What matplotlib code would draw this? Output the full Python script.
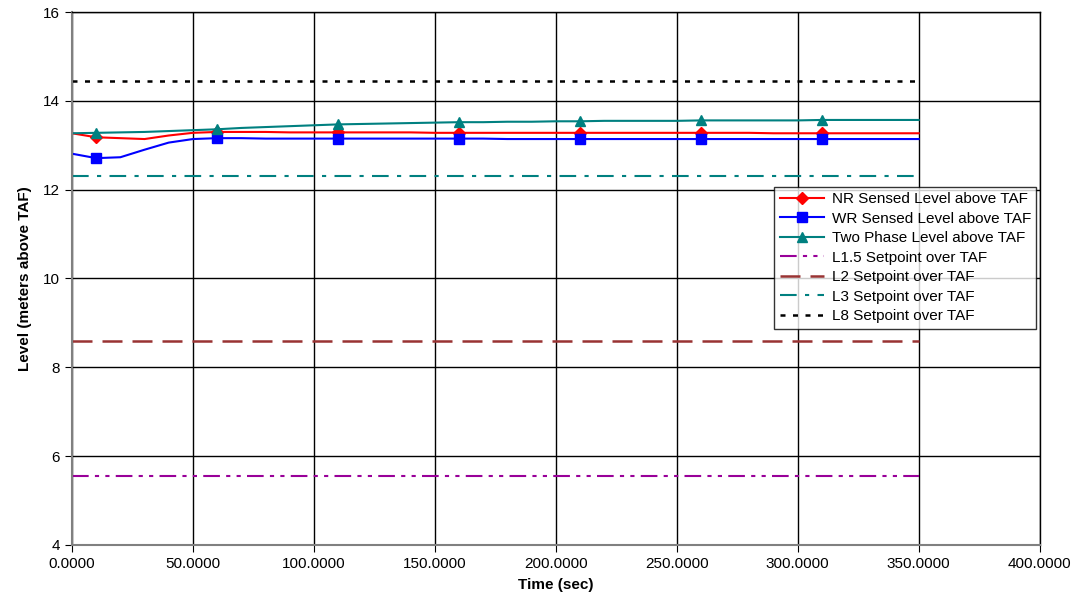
import matplotlib.pyplot as plt
from matplotlib.ticker import FormatStrFormatter

plt.rcParams['font.family'] = ['Liberation Sans', 'DejaVu Sans']

# time base, 10 s steps
time_s = [0, 10, 20, 30, 40, 50, 60, 70, 80, 90, 100, 110, 120, 130, 140, 150, 160, 170,
          180, 190, 200, 210, 220, 230, 240, 250, 260, 270, 280, 290, 300, 310, 320, 330,
          340, 350]

nr_level = [13.27, 13.18, 13.16, 13.14, 13.22, 13.28, 13.30, 13.30, 13.30, 13.29, 13.29,
            13.29, 13.29, 13.29, 13.29, 13.28, 13.28, 13.28, 13.28, 13.28, 13.28, 13.28,
            13.28, 13.28, 13.28, 13.28, 13.28, 13.28, 13.28, 13.27, 13.27, 13.27, 13.27,
            13.27, 13.27, 13.27]

wr_level = [12.81, 12.71, 12.73, 12.90, 13.06, 13.14, 13.16, 13.16, 13.15, 13.15, 13.15,
            13.15, 13.15, 13.15, 13.15, 13.15, 13.15, 13.15, 13.14, 13.14, 13.14, 13.14,
            13.14, 13.14, 13.14, 13.14, 13.14, 13.14, 13.14, 13.14, 13.14, 13.14, 13.14,
            13.14, 13.14, 13.14]

two_phase = [13.27, 13.28, 13.29, 13.30, 13.32, 13.34, 13.36, 13.39, 13.41, 13.43, 13.45,
             13.47, 13.48, 13.49, 13.50, 13.51, 13.52, 13.52, 13.53, 13.53, 13.54, 13.54,
             13.55, 13.55, 13.55, 13.55, 13.56, 13.56, 13.56, 13.56, 13.56, 13.57, 13.57,
             13.57, 13.57, 13.57]

# setpoints over TAF (m)
l15_setpoint = 5.56
l2_setpoint = 8.59
l3_setpoint = 12.31
l8_setpoint = 14.44

fig = plt.figure(figsize=(10.74, 6.04), dpi=100)
ax = fig.add_axes([0.067, 0.098, 0.901, 0.882])

ax.plot(time_s, nr_level, color='#FF0000', lw=1.5, marker='D', ms=6,
        markevery=(1, 5), label='NR Sensed Level above TAF')
ax.plot(time_s, wr_level, color='#0000FF', lw=1.5, marker='s', ms=7.5,
        markevery=(1, 5), label='WR Sensed Level above TAF')
ax.plot(time_s, two_phase, color='#008080', lw=1.5, marker='^', ms=7.5,
        markevery=(1, 5), label='Two Phase Level above TAF')

t_span = [time_s[0], time_s[-1]]
ax.plot(t_span, [l15_setpoint] * 2, color='#990099', lw=1.5,
        ls=(0, (8, 3, 2, 3, 2, 3)), label='L1.5 Setpoint over TAF')
ax.plot(t_span, [l2_setpoint] * 2, color='#993333', lw=1.8,
        ls=(0, (8, 4)), label='L2 Setpoint over TAF')
ax.plot(t_span, [l3_setpoint] * 2, color='#008080', lw=1.5,
        ls=(0, (8, 4, 2, 4)), label='L3 Setpoint over TAF')
ax.plot(t_span, [l8_setpoint] * 2, color='black', lw=1.8,
        ls=(0, (2, 3)), label='L8 Setpoint over TAF')

ax.set_xlim(0, 400)
ax.set_ylim(4, 16)
ax.set_xticks(range(0, 401, 50))
ax.set_yticks(range(4, 17, 2))
ax.xaxis.set_major_formatter(FormatStrFormatter('%.4f'))
ax.grid(True, color='black', lw=1)
ax.set_axisbelow(True)
ax.tick_params(direction='out', length=5, labelsize=11, colors='black')
for side in ['top', 'right']:
    ax.spines[side].set_color('black')
    ax.spines[side].set_linewidth(1)
for side in ['left', 'bottom']:
    ax.spines[side].set_color('#808080')
    ax.spines[side].set_linewidth(1.5)

ax.set_xlabel('Time (sec)', fontsize=11, fontweight='bold', labelpad=5)
ax.set_ylabel('Level (meters above TAF)', fontsize=11, fontweight='bold', labelpad=8)

leg = ax.legend(loc='upper left', bbox_to_anchor=(0.726, 0.672), borderaxespad=0,
                fontsize=11, frameon=True, fancybox=False, handlelength=2.9,
                handletextpad=0.5, labelspacing=0.36, borderpad=0.35)
leg.get_frame().set_edgecolor('black')
leg.get_frame().set_linewidth(1)

fig.savefig('out.png', dpi=100)
